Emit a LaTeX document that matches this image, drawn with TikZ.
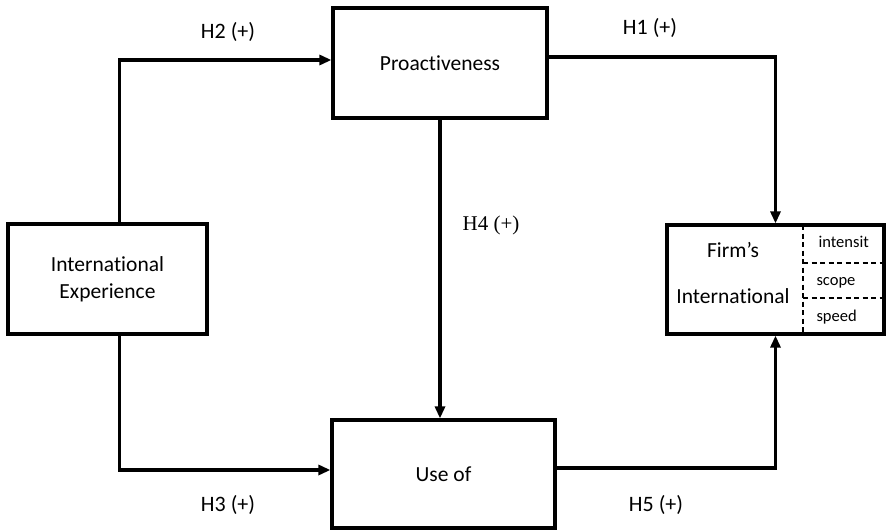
\documentclass[tikz,border=0pt]{standalone}
\usepackage{fontspec}
\setmainfont{Carlito}[Ligatures=NoCommon]
\newfontfamily\serifh{Liberation Serif}
\usetikzlibrary{arrows.meta}

\begin{document}
\begin{tikzpicture}[x=1pt,y=-1pt]
  \tikzstyle{box}=[draw,line width=3.2pt,align=center,font=\fontsize{21.5}{27}\selectfont,inner sep=0pt]
  \tikzstyle{link}=[line width=3.2pt,-{Triangle[length=12pt,width=10pt]}]
  \tikzstyle{hyp}=[font=\fontsize{22}{24}\selectfont]
  \tikzstyle{dim}=[font=\fontsize{16.5}{18}\selectfont,anchor=west]
  \useasboundingbox (0,0) rectangle (887,530);

  \node[box, minimum width=199pt, minimum height=110pt] (IE) at (107.5,279) {International\\Experience};
  \node[box, minimum width=214pt, minimum height=110pt] (PR) at (440,63) {Proactiveness};
  \node[box, minimum width=223pt, minimum height=108pt] (UO) at (443.5,474) {Use of};
  \node[box, minimum width=217pt, minimum height=109pt] (FI) at (775.5,279.5) {};

  % inside of the outcome box
  \node[box,draw=none] (FI_1) at (733,250) {Firm’s};
  \node[box,draw=none] (FI_2) at (733,296) {International};
  \coordinate (D_top) at (803,225);
  \coordinate (D_bot) at (803,334);
  \coordinate (D_1) at (884,263);
  \coordinate (D_2) at (884,298);
  \draw[dash pattern=on 5pt off 3.5pt,line width=1.3pt] (D_top) -- (D_bot);
  \draw[dash pattern=on 5pt off 3.5pt,line width=1.3pt] (D_top |- D_1) -- (D_1);
  \draw[dash pattern=on 5pt off 3.5pt,line width=1.3pt] (D_top |- D_2) -- (D_2);
  \node[dim] (S_1) at (815,242) {intensit};
  \node[dim] (S_2) at (813,283) {scope};
  \node[dim] (S_3) at (813,317) {speed};

  \draw[link] ([xshift=12pt]IE.north) |- ([yshift=3pt]PR.west);
  \draw[link] ([yshift=6pt]PR.east) -| (FI.north);
  \draw[link] (PR.south) -- (PR.south |- UO.north);
  \draw[link] ([xshift=12pt]IE.south) |- ([yshift=4pt]UO.west);
  \draw[link] ([yshift=6pt]UO.east) -| (FI.south);

  \node[hyp] (H_2) at (228,32) {H2 (+)};
  \node[hyp] (H_1) at (650,28) {H1 (+)};
  \node[hyp,font=\serifh\fontsize{21}{24}\selectfont] (H_4) at (491,225) {H4 (+)};
  \node[hyp] (H_3) at (228,505) {H3 (+)};
  \node[hyp] (H_5) at (656,505) {H5 (+)};
\end{tikzpicture}
\end{document}
